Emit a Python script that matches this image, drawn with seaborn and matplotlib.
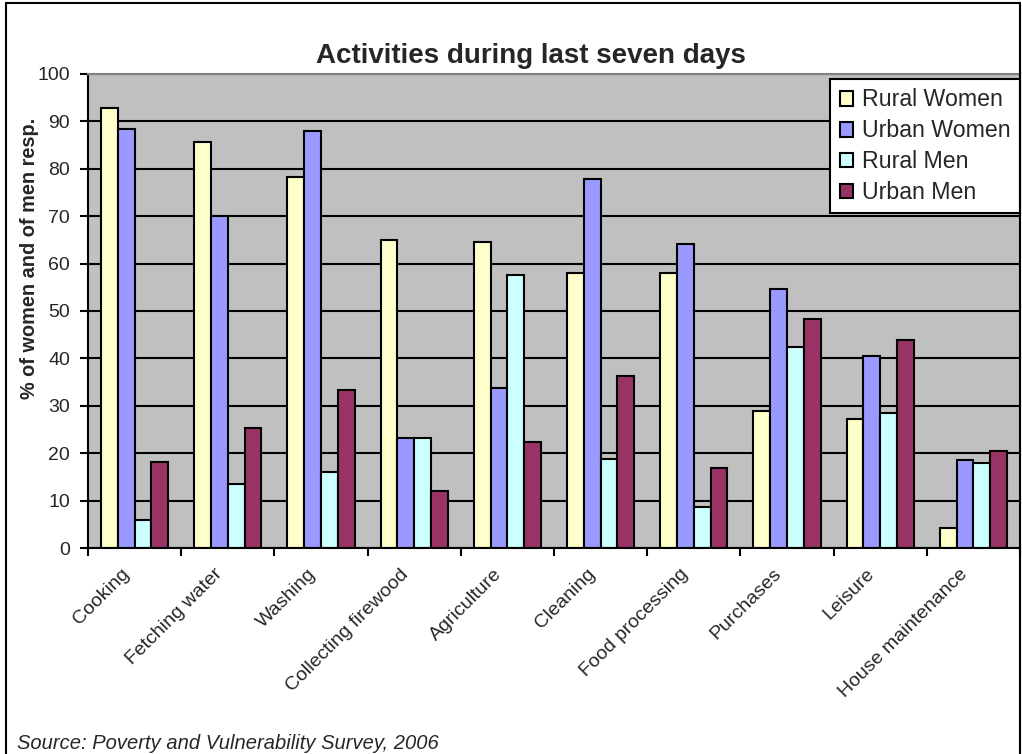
import matplotlib
matplotlib.use("Agg")
import matplotlib.pyplot as plt
import matplotlib.transforms as mtransforms
from matplotlib.patches import Rectangle
from matplotlib.ticker import FixedLocator, MultipleLocator
import seaborn as sns
import pandas as pd

# data
activities = ["Cooking", "Fetching water", "Washing", "Collecting firewood", "Agriculture",
              "Cleaning", "Food processing", "Purchases", "Leisure", "House maintenance"]
groups = ["Rural Women", "Urban Women", "Rural Men", "Urban Men"]
rural_women = [92.8, 85.6, 78.3, 64.9, 64.5, 58.0, 58.0, 28.9, 27.3, 4.3]
urban_women = [88.4, 70.0, 88.0, 23.3, 33.7, 77.8, 64.2, 54.7, 40.6, 18.5]
rural_men = [6.0, 13.6, 16.1, 23.3, 57.6, 18.7, 8.7, 42.3, 28.5, 18.0]
urban_men = [18.2, 25.4, 33.4, 12.0, 22.4, 36.2, 16.8, 48.3, 43.9, 20.5]
colors = ["#FFFFCC", "#9999FF", "#CCFFFF", "#993366"]

rows = []
for g, vals in zip(groups, [rural_women, urban_women, rural_men, urban_men]):
    for a, v in zip(activities, vals):
        rows.append({"activity": a, "group": g, "pct": v})
df = pd.DataFrame(rows)

sns.set_theme(style="ticks")
plt.rcParams["font.family"] = ["Liberation Sans", "DejaVu Sans"]

fig = plt.figure(figsize=(10.22, 7.54), dpi=100)
ax = fig.add_axes([0.0861, 0.2732, 0.9119, 0.6287])
ax.set_facecolor("#C0C0C0")

sns.barplot(data=df, x="activity", y="pct", hue="group", order=activities, hue_order=groups,
            palette=dict(zip(groups, colors)), saturation=1, width=0.72,
            edgecolor="black", linewidth=1.5, ax=ax)

ax.set_ylim(0, 100)
ax.set_xlim(-0.5, len(activities) - 0.5)
ax.yaxis.set_major_locator(MultipleLocator(10))
ax.set_axisbelow(True)
ax.yaxis.grid(True, color="black", linewidth=1.5)
for s in ax.spines.values():
    s.set_color("black")
    s.set_linewidth(1.5)
ax.spines["right"].set_color("#808080")
ax.spines["top"].set_color("#808080")

ax.tick_params(axis="y", labelsize=14, length=6, width=1.5, color="black", pad=7)
ax.tick_params(axis="x", which="major", length=0, labelsize=14, pad=17)
ax.xaxis.set_minor_locator(FixedLocator([i - 0.5 for i in range(len(activities) + 1)]))
ax.tick_params(axis="x", which="minor", length=6, width=1.5, color="black")
# nudge rotated labels a little to the left, like excel does
shift = mtransforms.ScaledTranslation(-8 / 100, 0, fig.dpi_scale_trans)
for lab in ax.get_xticklabels():
    lab.set_rotation(45)
    lab.set_ha("right")
    lab.set_va("center")
    lab.set_rotation_mode("anchor")
    lab.set_transform(lab.get_transform() + shift)

ax.set_xlabel("")
ax.set_ylabel("% of women and of men resp.", fontsize=14.3, fontweight="bold")
ax.yaxis.set_label_coords(-0.053, 0.612)
ax.set_title("Activities during last seven days", fontsize=20, fontweight="bold", pad=8, x=0.475)

handles, labels = ax.get_legend_handles_labels()
leg = ax.legend(handles, labels, loc="upper right", bbox_to_anchor=(1.0, 0.989), fontsize=16.7,
                frameon=True, fancybox=False, framealpha=1, edgecolor="black",
                handlelength=0.6, handleheight=0.6, handletextpad=0.37, labelspacing=0.34,
                borderaxespad=0, borderpad=0.4)
leg.get_frame().set_linewidth(1.5)

fig.text(0.0166, 0.006, "Source: Poverty and Vulnerability Survey, 2006", fontsize=14.5,
         style="italic", ha="left", va="baseline")

fig.patches.append(Rectangle((0.006, -0.01), 0.992, 1.006, transform=fig.transFigure,
                             fill=False, edgecolor="black", linewidth=1.5))

fig.savefig("out.png", dpi=100)
